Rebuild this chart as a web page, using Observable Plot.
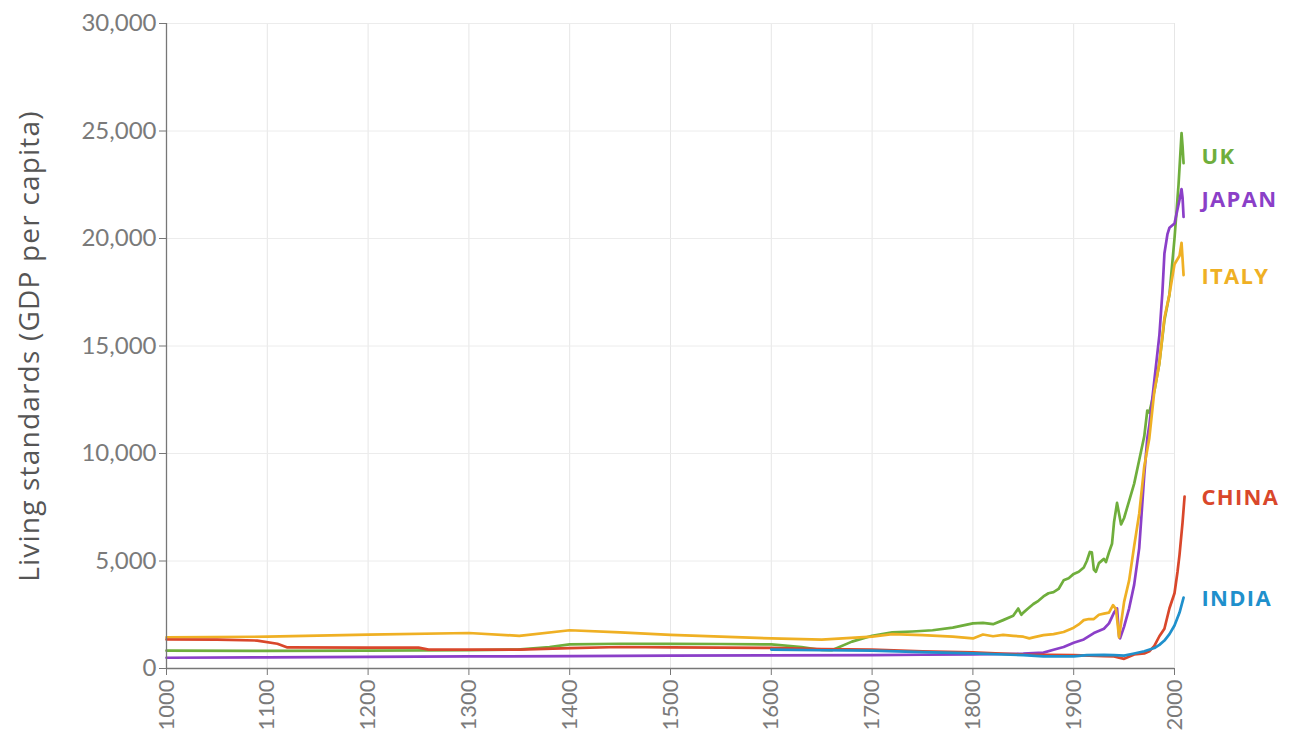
<!DOCTYPE html>
<html>
<head>
<meta charset="utf-8">
<script src="https://cdn.jsdelivr.net/npm/d3@7"></script>
<script src="https://cdn.jsdelivr.net/npm/@observablehq/plot@0.6"></script>
<style>
  html, body { margin: 0; padding: 0; background: #fff; }
  #chart svg { display: block; }
</style>
</head>
<body>
<div id="chart"></div>
<script>
// ---- data (GDP per capita) ----
const UK = [
  [1000, 830], [1100, 820], [1200, 830], [1300, 850], [1348, 880], [1380, 1000], [1400, 1120],
  [1450, 1150], [1500, 1150], [1550, 1140], [1600, 1120], [1630, 1000], [1650, 860], [1660, 850],
  [1680, 1250], [1700, 1520], [1720, 1680], [1740, 1720], [1760, 1780], [1780, 1900], [1800, 2100],
  [1810, 2120], [1820, 2060], [1830, 2250], [1840, 2450], [1845, 2790], [1848, 2500], [1850, 2600],
  [1855, 2800], [1860, 3000], [1865, 3150], [1870, 3350], [1875, 3500], [1880, 3550], [1885, 3700],
  [1890, 4100], [1895, 4200], [1900, 4400], [1905, 4500], [1910, 4700], [1913, 5000], [1916, 5420],
  [1918, 5400], [1920, 4600], [1922, 4500], [1925, 4900], [1930, 5100], [1932, 4950], [1935, 5400],
  [1938, 5800], [1940, 6800], [1943, 7700], [1945, 7200], [1947, 6700], [1950, 7000], [1955, 7800],
  [1960, 8600], [1965, 9700], [1970, 10800], [1973, 12000], [1975, 11900], [1980, 12900],
  [1985, 14200], [1990, 16200], [1995, 17400], [2000, 20000], [2004, 22500], [2007, 24900],
  [2008, 24300], [2009, 23500]
];
const ITALY = [
  [1000, 1450], [1100, 1480], [1200, 1580], [1300, 1650], [1350, 1520], [1400, 1780], [1450, 1680],
  [1500, 1560], [1550, 1480], [1600, 1400], [1650, 1340], [1700, 1480], [1720, 1600], [1750, 1550],
  [1780, 1480], [1800, 1400], [1810, 1580], [1820, 1500], [1830, 1560], [1840, 1520], [1850, 1480],
  [1856, 1400], [1860, 1450], [1870, 1550], [1880, 1600], [1890, 1700], [1900, 1900], [1905, 2050],
  [1910, 2250], [1915, 2300], [1920, 2300], [1925, 2500], [1930, 2550], [1935, 2600], [1939, 2950],
  [1942, 2750], [1945, 1450], [1950, 3100], [1955, 4100], [1960, 5700], [1965, 7200], [1970, 9400],
  [1975, 10700], [1980, 12900], [1985, 14200], [1990, 16300], [1995, 17400], [2000, 18800],
  [2005, 19200], [2007, 19800], [2009, 18300]
];
const JAPAN = [
  [1000, 500], [1100, 520], [1200, 540], [1300, 560], [1400, 580], [1500, 600], [1600, 610],
  [1700, 620], [1750, 640], [1800, 660], [1850, 690], [1870, 740], [1880, 870], [1890, 1000],
  [1900, 1200], [1910, 1350], [1920, 1650], [1930, 1850], [1935, 2100], [1940, 2600], [1943, 2800],
  [1945, 1500], [1946, 1400], [1950, 1950], [1955, 2800], [1960, 3900], [1965, 5600], [1970, 9000],
  [1973, 10700], [1975, 11300], [1980, 13400], [1985, 15500], [1988, 17500], [1990, 19300],
  [1993, 20200], [1995, 20500], [2000, 20700], [2005, 21800], [2007, 22300], [2008, 21900],
  [2009, 21000]
];
const CHINA = [
  [1000, 1350], [1050, 1340], [1090, 1300], [1110, 1150], [1120, 980], [1200, 970], [1250, 970],
  [1260, 880], [1300, 880], [1350, 880], [1400, 950], [1450, 1000], [1500, 980], [1550, 970],
  [1600, 960], [1650, 900], [1700, 880], [1750, 800], [1800, 750], [1850, 650], [1900, 620],
  [1930, 580], [1940, 560], [1950, 450], [1960, 650], [1970, 700], [1975, 800], [1980, 1050],
  [1985, 1500], [1990, 1850], [1995, 2800], [2000, 3500], [2003, 4500], [2005, 5300], [2008, 6800],
  [2010, 8000]
];
const INDIA = [
  [1600, 880], [1650, 850], [1700, 830], [1750, 760], [1800, 700], [1850, 620], [1870, 560],
  [1900, 560], [1913, 620], [1930, 630], [1940, 620], [1950, 600], [1960, 700], [1970, 800],
  [1980, 950], [1985, 1100], [1990, 1300], [1995, 1600], [2000, 2000], [2005, 2600], [2009, 3300]
];

const seriesNames = ["UK", "JAPAN", "ITALY", "CHINA", "INDIA"];
const seriesColors = ["#6fae3c", "#8b3fc8", "#efb024", "#d9472b", "#1f90cc"];
const seriesData = [UK, JAPAN, ITALY, CHINA, INDIA];
const labelValues = [23800, 21800, 18200, 7950, 3250];

const xTicks = [1000, 1100, 1200, 1300, 1400, 1500, 1600, 1700, 1800, 1900, 2000];
const yTicks = [0, 5000, 10000, 15000, 20000, 25000, 30000];
const yTitle = "Living standards (GDP per capita)";

// ---- build table ----
const rows = [];
seriesNames.forEach((name, i) => {
  seriesData[i].forEach(([year, value]) => rows.push({country: name, year, value}));
});
const labels = seriesNames.map((name, i) => ({country: name, year: 2000, value: labelValues[i]}));

const fmt = d3.format(",");
const font = "Lato, 'Open Sans', sans-serif";

const chart = Plot.plot({
  width: 1289,
  height: 748,
  marginLeft: 166,
  marginRight: 115,
  marginTop: 23,
  marginBottom: 80,
  style: {fontFamily: font, background: "#fff"},
  x: {domain: [1000, 2000]},
  y: {domain: [0, 30000]},
  color: {domain: seriesNames, range: seriesColors},
  marks: [
    Plot.gridX(xTicks, {stroke: "#e6e6e6", strokeOpacity: 1}),
    Plot.gridY(yTicks, {stroke: "#ececec", strokeOpacity: 1}),
    Plot.line(rows, {x: "year", y: "value", z: "country", stroke: "country", strokeWidth: 2.7, clip: false, curve: "linear"}),
    Plot.ruleX([1000], {stroke: "#777", strokeWidth: 1.3}),
    Plot.ruleY([0], {stroke: "#777", strokeWidth: 1.3}),
    Plot.axisY({ticks: yTicks, tickFormat: fmt, tickSize: 7, tickPadding: 3, fontSize: 24, fill: "#7a7a7a", stroke: "#777", label: null}),
    Plot.axisX({ticks: xTicks, tickFormat: d => String(d), tickSize: 7, tickPadding: 4, tickRotate: -90, fontSize: 22, fill: "#7a7a7a", stroke: "#777", label: null}),
    Plot.text([yTitle], {frameAnchor: "left", dx: -136, rotate: -90, textAnchor: "middle", fontSize: 28, fill: "#555", fontFamily: "'Open Sans', sans-serif"}),
    Plot.text(labels, {x: "year", y: "value", text: "country", fill: "country", dx: 27, textAnchor: "start", fontSize: 22, fontWeight: "bold", fontFamily: "'Open Sans', sans-serif"})
  ]
});
chart.querySelectorAll("text").forEach(t => {
  if (seriesNames.includes(t.textContent)) t.style.letterSpacing = "1.3px";
  if (t.textContent === yTitle) t.style.letterSpacing = "1.2px";
});
document.getElementById("chart").appendChild(chart);
</script>
</body>
</html>
